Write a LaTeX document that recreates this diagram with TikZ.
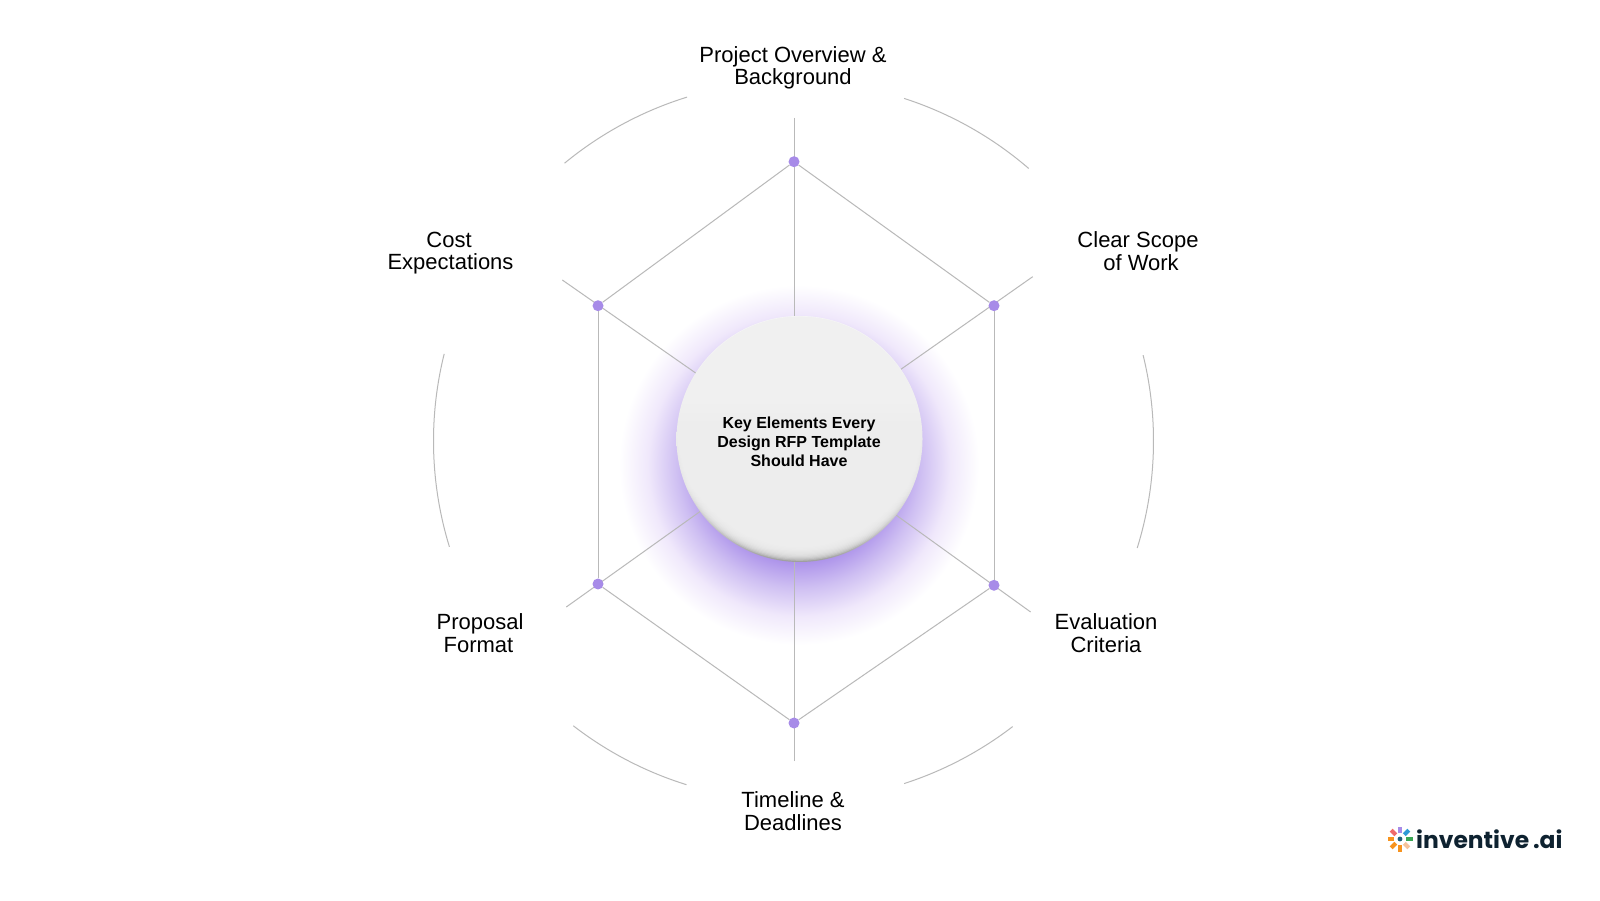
\documentclass[tikz,border=0pt]{standalone}
\usepackage{fontspec}
\usepackage{tikz}
\usetikzlibrary{backgrounds}
\setmainfont{Liberation Sans}
\newfontfamily\logofont{Poppins}

\definecolor{linegray}{HTML}{B9B9B9}
\definecolor{dotpurple}{HTML}{A78BE8}
\definecolor{diskface}{HTML}{F0F0F0}
\definecolor{logoink}{HTML}{0E2230}
\definecolor{petalblue}{HTML}{2E9AD6}
\definecolor{petalgreen}{HTML}{3AA655}
\definecolor{petalpeach}{HTML}{F5C39C}
\definecolor{petalorange}{HTML}{F7931E}
\definecolor{petalred}{HTML}{EF6A6A}
\definecolor{petalcore}{HTML}{1F5F7A}

\pgfdeclareradialshading{glowshade}{\pgfpoint{0bp}{0bp}}{%
  rgb(0bp)=(0.62,0.52,0.90);
  rgb(13.5bp)=(0.68,0.58,0.92);
  rgb(17bp)=(0.81,0.75,0.95);
  rgb(21bp)=(0.94,0.91,0.985);
  rgb(25bp)=(1,1,1);
  rgb(50bp)=(1,1,1)}
\pgfdeclareverticalshading{rimshade}{100bp}{%
  rgb(0bp)=(0.62,0.62,0.62);
  rgb(25bp)=(0.62,0.62,0.62);
  rgb(30bp)=(0.74,0.74,0.74);
  rgb(40bp)=(0.90,0.90,0.90);
  rgb(75bp)=(0.98,0.98,0.98);
  rgb(100bp)=(0.98,0.98,0.98)}

\tikzset{
  spoke/.style={draw=linegray,line width=1pt},
  ringarc/.style={draw=linegray,line width=1pt},
  dotnode/.style={circle,fill=dotpurple,inner sep=0pt,minimum size=11pt},
  label/.style={align=center,font=\fontsize{22}{22.3}\selectfont,text=black},
  hubdisk/.style={circle,inner sep=0pt,minimum size=246pt,shading=rimshade},
  hubtext/.style={align=center,font=\fontsize{16}{19}\selectfont\bfseries},
  petal/.style={line width=4.2pt}
}

\begin{document}
\begin{tikzpicture}[x=1pt,y=1pt]
\useasboundingbox (0,0) rectangle (1600,900);

% middle disk
\node[hubdisk,path picture={
  \foreach \i in {1,...,16}
    \fill[diskface,opacity=.25] ([yshift={.5*\i*1pt}]path picture bounding box.center) circle ({(123-.7*\i)*1pt});
  }] (hub) at (799.5,461) {};
\node[hubtext] (hubtitle) at (799,458.5) {Key Elements Every\\Design RFP Template\\Should Have};
\coordinate (hubc) at (796,457);

% dots
\node[dotnode] (dottop) at (794,738.3) {};
\node[dotnode] (dotur) at (994,594.3) {};
\node[dotnode] (dotlr) at (994,314.7) {};
\node[dotnode] (dotbot) at (794,177) {};
\node[dotnode] (dotll) at (598,316) {};
\node[dotnode] (dotul) at (598,594.3) {};

% free ends of the spokes
\coordinate (endtop) at (794,782);
\coordinate (endur) at (1032.7,623.3);
\coordinate (endlr) at (1030.6,288);
\coordinate (endbot) at (794,139);
\coordinate (endll) at (566.3,293);
\coordinate (endul) at (562.3,620);

\begin{pgfonlayer}{background}
\fill[white] (0,0) rectangle (1600,900);
\shade[shading=glowshade] (799,435) circle (180pt);
\draw[spoke] (endtop) -- (dottop |- hubc);
\draw[spoke] (endbot) -- (dotbot |- hubc);
\foreach \e in {endur,endlr,endll,endul}
  \draw[spoke] (\e) -- (hubc);
\draw[spoke] (dottop) -- (dotur);
\draw[spoke] (dotur) -- (dotlr);
\draw[spoke] (dotlr) -- (dotbot);
\draw[spoke] (dotbot) -- (dotll);
\draw[spoke] (dotll) -- (dotul);
\draw[spoke] (dotul) -- (dottop);
\end{pgfonlayer}

% outer ring
\coordinate (ringc) at (793.5,459);
\foreach \a/\b in {107.2/129.5,49.2/72.1,-17.3/13.8,166/197.1,232.3/252.7,287.9/307.5}
  \draw[ringarc] (ringc) ++(\a:360pt) arc[start angle=\a,end angle=\b,radius=360pt];

% labels
\node[label] (overview) at (793,832.5) {Project Overview \&\\Background};
\node[label] (scope) at (1138,649) {Clear Scope\\\hspace*{6pt}of Work};
\node[label] (evaluation) at (1106,267) {Evaluation\\Criteria};
\node[label] (timeline) at (793,89) {Timeline \&\\Deadlines};
\node[label] (format) at (480,267) {Proposal\\Format\hspace*{3pt}};
\node[label] (cost) at (450.5,647) {Cost\hspace*{3pt}\\Expectations};

% logo
\node[font=\logofont\bfseries\fontsize{23.4}{25}\selectfont,text=logoink,anchor=west,inner sep=0pt] (logo) at (1416,61) {inventive\,.ai};
\coordinate (logoc) at (1400,61);
\fill[petalcore] (logoc) circle (2.4pt);
\foreach \ang/\col in {90/dotpurple,45/petalblue,0/petalgreen,-45/petalpeach,-90/petalorange,-135/petalorange,180/petalorange,135/petalred}
  \draw[petal,\col] (logoc) ++(\ang:6pt) -- ++(\ang:6.5pt);
\end{tikzpicture}
\end{document}
